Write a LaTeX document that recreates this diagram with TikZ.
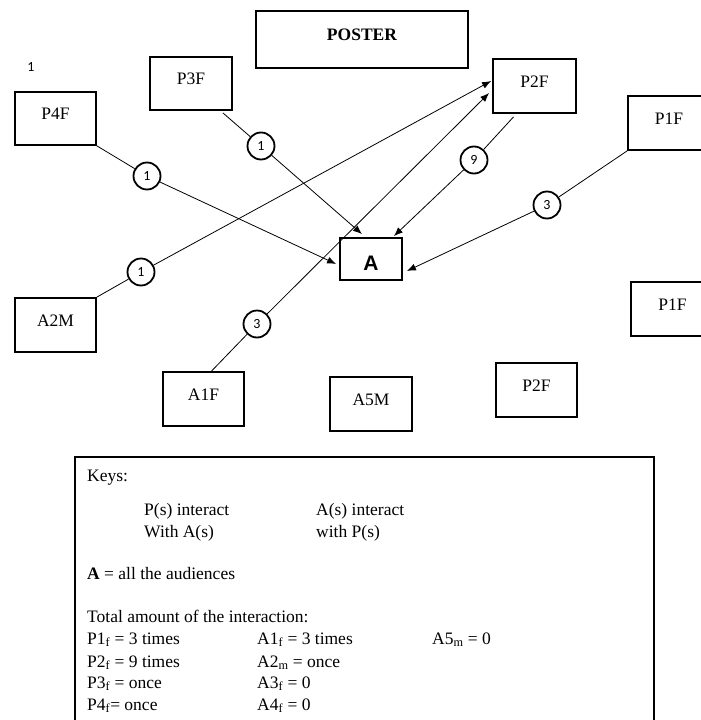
\documentclass[tikz,border=0pt]{standalone}
\usepackage{fontspec}
\setmainfont{Liberation Serif}
\newfontfamily\numfont{Carlito}
\newfontfamily\arialfont{Liberation Sans}
\usetikzlibrary{arrows.meta}
\begin{document}
\begin{tikzpicture}[x=1pt,y=-1pt,
  box/.style={draw, line width=1.8pt, rectangle, inner sep=0pt,
    font=\fontsize{17.5}{21}\selectfont, text height=12pt, text depth=10pt},
  numcirc/.style={circle, draw, line width=1.8pt, fill=white, minimum size=27pt,
    inner sep=0pt, font=\numfont\fontsize{14}{14}\selectfont},
  conn/.style={line width=0.8pt},
  arr/.style={conn, -{Latex[length=9pt,width=7pt]}},
  keytext/.style={anchor=base west, inner sep=0pt, font=\fontsize{17.5}{21}\selectfont}]
\useasboundingbox (0,0) rectangle (701,720);

% boxes
\node[box, minimum width=212pt, minimum height=57pt, font=\bfseries\fontsize{17.5}{21}\selectfont] (poster) at (362,39.5) {POSTER};
\node[box, minimum width=82pt, minimum height=53pt] (P3F) at (191,83.5) {P3F};
\node[box, minimum width=81pt, minimum height=53pt] (P4F) at (55.5,118.5) {P4F};
\node[box, minimum width=83pt, minimum height=54pt] (P2Ft) at (534.5,86) {P2F};
\node[box, minimum width=82pt, minimum height=54pt] (P1Ft) at (669,123) {P1F};
\node[box, minimum width=83pt, minimum height=54pt] (P1Fr) at (672.5,309) {P1F};
\node[box, minimum width=62pt, minimum height=42pt, font=\arialfont\bfseries\fontsize{21}{21}\selectfont, text height=22pt, text depth=0pt] (A) at (371,259) {A};
\node[box, minimum width=81pt, minimum height=54pt] (A2M) at (55.5,325) {A2M};
\node[box, minimum width=81pt, minimum height=54pt] (A1F) at (203.5,399) {A1F};
\node[box, minimum width=82pt, minimum height=54pt] (A5M) at (371,404) {A5M};
\node[box, minimum width=81pt, minimum height=54pt] (P2Fb) at (536.5,390) {P2F};

\node[inner sep=0pt, font=\numfont\fontsize{14}{14}\selectfont] (one) at (31,67) {1};

% count circles
\node[numcirc] (c1) at (147,176) {1};
\node[numcirc] (c2) at (261,146) {1};
\node[numcirc] (c3) at (141,272) {1};
\node[numcirc] (c4) at (257,324) {3};
\node[numcirc] (c5) at (474,160) {9};
\node[numcirc] (c6) at (547,205) {3};

% connectors
\draw[arr] (P4F.south east) -- (c1) -- ([shift={(-3,5)}]A.west);
\draw[arr] ([shift={(-10,2)}]P3F.south east) -- (c2) -- ([shift={(-9,-3)}]A.north);
\draw[arr] (A2M.north east) -- (c3) -- ([shift={(-1,-5)}]P2Ft.west);
\draw[arr] ([shift={(8,0)}]A1F.north) -- (c4) -- ([shift={(-3,7)}]P2Ft.west);
\draw[arr] ([shift={(-21,3)}]P2Ft.south) -- (c5) -- ([shift={(-9,-1)}]A.north east);
\draw[arr] (P1Ft.south west) -- (c6) -- ([shift={(4,12)}]A.east);

% key box
\draw[line width=2.4pt] (75,745) |- (654,457) -- (654,745);
\node[keytext] (k1) at (87,481) {Keys:};
\node[keytext] (k2) at (144,515) {P(s) interact};
\node[keytext] (k3) at (316,515) {A(s) interact};
\node[keytext] (k4) at (144,537) {With A(s)};
\node[keytext] (k5) at (316,537) {with P(s)};
\node[keytext] (k6) at (87,579) {\textbf{A} = all the audiences};
\node[keytext] (k7) at (87,622) {Total amount of the interaction:};
\node[keytext] (r1a) at (87,644) {P1\textsubscript{f} = 3 times};
\node[keytext] (r2a) at (87,667) {P2\textsubscript{f} = 9 times};
\node[keytext] (r3a) at (87,688) {P3\textsubscript{f} = once};
\node[keytext] (r4a) at (87,710) {P4\textsubscript{f}= once};
\node[keytext] (r1b) at (257,644) {A1\textsubscript{f} = 3 times};
\node[keytext] (r2b) at (257,667) {A2\textsubscript{m} = once};
\node[keytext] (r3b) at (257,688) {A3\textsubscript{f} = 0};
\node[keytext] (r4b) at (257,710) {A4\textsubscript{f} = 0};
\node[keytext] (r1c) at (432,644) {A5\textsubscript{m} = 0};
\end{tikzpicture}
\end{document}
